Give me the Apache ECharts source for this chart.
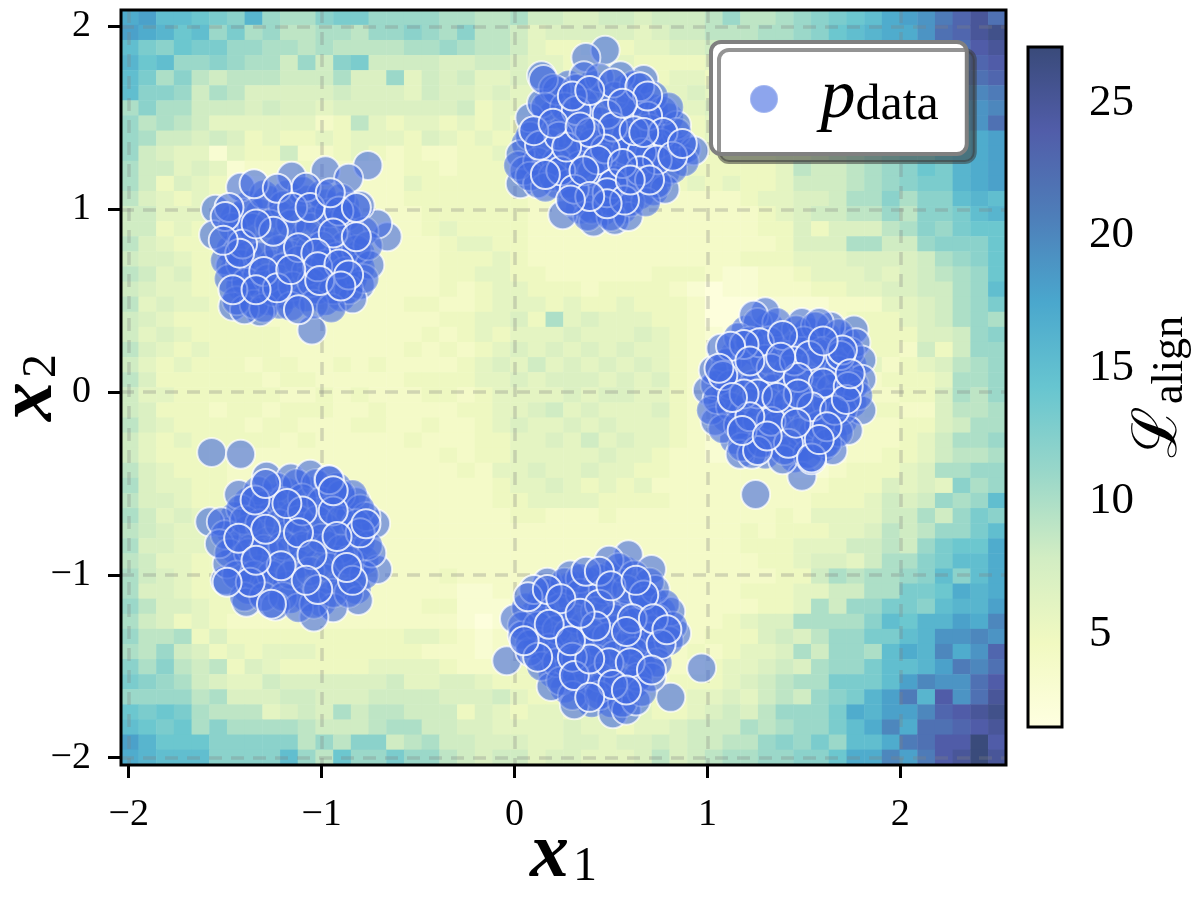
<!DOCTYPE html>
<html>
<head>
<meta charset="utf-8">
<style>html,body{margin:0;padding:0;background:#fff}#main{width:1200px;height:900px}</style>
<script src="https://cdn.jsdelivr.net/npm/echarts@6/dist/echarts.min.js"></script>
</head>
<body>
<div id="main"></div>
<script>
// L_align per cell, top row first
const alignRows = [
[17,18,15,15,14,13,12,16,11,10,10,12,13,13,11,11,11,11,10,10,9,9,10,8,8,7,7,8,8,7,8,8,8,9,11,9,9,10,11,12,13,14,15,17,18,19,21,23,25,22],
[18,17,16,14,15,11,13,10,11,9,9,10,10,9,11,11,12,11,10,12,9,9,8,6,7,7,7,7,7,6,7,8,8,9,9,9,10,10,11,12,14,15,16,17,17,19,22,23,25,26],
[15,13,12,14,13,13,11,11,10,10,9,10,9,9,9,9,10,10,11,10,9,9,8,6,5,5,6,6,5,6,6,7,7,8,9,9,10,11,11,12,13,14,15,17,18,18,20,22,24,25],
[16,14,15,11,11,12,11,10,10,8,11,8,12,13,8,8,8,8,7,7,8,8,7,6,6,5,5,6,6,5,5,5,5,6,8,8,9,9,10,12,13,14,15,16,17,18,20,21,23,24],
[15,13,10,12,9,8,9,9,9,8,8,8,10,7,7,11,6,8,7,8,6,6,7,6,6,5,6,6,6,6,5,6,6,5,8,7,7,8,10,11,12,14,15,16,17,18,20,22,22,23],
[15,12,12,11,8,10,9,7,7,7,7,7,8,7,7,7,6,8,7,7,6,7,6,6,7,6,7,7,7,6,6,6,7,6,6,7,7,8,9,10,12,13,14,15,16,18,19,20,20,21],
[10,12,10,10,8,8,8,7,8,7,7,6,7,7,7,7,7,7,7,8,5,6,6,6,7,6,6,6,6,6,6,6,6,7,6,6,7,8,8,9,11,12,13,14,15,16,18,18,19,20],
[11,9,10,9,8,6,6,6,6,6,6,4,5,9,6,5,6,6,5,6,5,6,5,5,6,6,5,5,5,5,6,6,5,6,6,7,7,7,8,9,10,11,12,13,14,16,17,17,19,22],
[11,10,8,8,7,8,7,5,6,5,5,6,5,6,6,6,5,7,6,5,6,5,5,4,5,5,5,6,5,5,6,5,5,6,5,6,7,7,7,8,10,11,13,13,14,15,16,16,17,18],
[11,8,7,6,6,3,6,5,5,8,4,4,5,6,5,4,5,4,4,5,5,6,5,5,4,4,5,4,4,5,5,6,5,5,6,6,6,7,7,8,9,10,11,12,13,13,15,16,17,18],
[10,8,8,6,7,6,3,4,4,4,5,4,4,4,4,4,5,5,4,5,5,5,4,5,4,4,4,4,4,4,5,5,5,5,5,5,5,6,9,8,8,9,10,11,12,14,13,16,17,18],
[10,8,5,7,6,5,3,3,4,4,4,4,4,4,4,4,6,5,5,5,5,5,5,5,5,5,4,5,4,4,4,5,6,5,6,5,5,6,8,8,8,9,10,11,12,13,13,16,17,18],
[9,7,6,5,6,5,3,3,4,4,4,4,4,4,4,4,5,5,5,5,5,5,5,4,4,4,4,4,4,4,4,4,4,4,4,5,6,6,7,7,8,10,10,12,10,12,12,15,16,15],
[8,8,6,6,6,5,4,4,4,4,4,4,4,4,4,4,4,5,5,5,5,5,5,4,4,4,4,4,4,4,4,4,4,4,4,4,5,6,7,8,8,9,9,11,9,12,12,13,15,16],
[8,8,5,6,5,6,4,4,4,4,4,4,4,4,4,4,4,5,6,5,5,5,5,4,4,4,4,4,4,4,4,4,4,4,4,4,5,5,7,5,7,7,7,9,10,12,11,13,14,14],
[9,7,6,5,5,5,4,4,4,4,4,4,4,4,4,4,4,4,5,6,6,5,5,4,4,4,4,4,4,4,4,4,4,4,4,4,4,5,7,7,7,10,10,8,8,11,12,12,12,14],
[8,7,7,6,5,5,4,4,4,4,4,4,4,4,4,4,4,4,5,5,5,6,5,4,4,4,4,4,4,4,4,4,4,4,4,5,5,5,6,6,6,7,7,7,7,8,10,11,12,14],
[9,8,6,7,5,5,4,4,4,4,4,4,4,4,4,4,4,4,5,5,6,6,5,5,4,4,4,4,4,4,5,5,5,4,3,3,4,4,5,6,6,6,7,6,7,8,9,10,11,14],
[8,7,6,6,5,5,4,4,4,4,4,4,4,4,4,4,4,4,5,4,5,6,6,5,5,5,4,5,5,5,5,4,3,2,3,3,4,4,4,5,5,6,6,7,7,8,8,10,11,15],
[9,6,7,6,6,5,5,5,4,4,4,4,4,4,4,4,5,5,4,4,5,6,6,6,5,6,5,5,6,5,5,5,4,2,2,2,3,3,3,3,4,4,4,6,6,7,8,10,11,13],
[8,7,6,5,5,5,5,5,4,4,4,4,4,4,4,4,4,4,5,5,6,6,7,5,10,6,7,6,6,6,5,5,4,2,2,3,3,3,3,3,4,5,5,5,6,7,8,10,11,10],
[8,6,7,6,5,5,5,5,5,4,4,4,4,4,4,4,4,5,4,5,6,5,6,6,6,7,6,6,6,7,6,5,4,3,2,3,3,3,3,3,4,4,5,5,5,7,7,8,11,12],
[9,7,6,5,6,5,5,5,5,4,4,4,4,4,4,4,5,4,5,4,5,6,7,6,7,6,7,6,7,6,6,5,4,3,3,3,3,3,3,3,4,4,5,5,4,8,5,8,11,11],
[8,6,5,6,5,5,5,4,5,5,4,4,5,4,5,4,4,4,4,5,6,7,6,8,6,7,6,7,6,7,6,5,4,3,3,3,3,3,3,3,4,4,6,4,5,6,7,9,10,11],
[9,7,5,5,5,5,5,5,4,5,5,4,4,4,4,4,5,5,5,5,6,6,7,6,7,7,7,6,7,6,7,5,4,3,3,3,3,3,3,3,3,4,4,5,5,5,6,10,10,11],
[8,6,6,5,5,5,5,5,5,4,4,5,4,5,4,4,4,5,5,4,5,6,6,6,6,7,6,7,7,6,6,5,4,3,3,3,3,3,3,3,3,3,4,4,5,5,7,10,9,11],
[8,7,5,5,5,4,5,5,4,5,5,5,4,4,5,4,4,4,4,5,5,6,6,7,8,6,7,6,6,6,7,5,4,3,3,3,3,3,3,3,3,4,5,5,4,4,7,9,9,10],
[9,7,6,5,5,5,5,4,5,5,4,4,4,5,5,4,4,5,4,4,5,6,7,6,6,7,6,7,6,6,6,5,4,3,3,3,3,3,3,3,3,4,4,4,5,5,7,8,10,10],
[8,6,5,6,5,5,5,5,5,4,5,4,4,4,4,4,5,4,4,4,5,5,6,6,7,6,8,6,7,6,6,5,4,3,3,3,3,3,3,3,3,4,4,4,5,6,8,10,10,11],
[8,6,5,5,5,5,4,4,4,4,4,4,4,4,4,4,4,4,5,4,5,5,6,6,6,6,6,7,6,6,5,4,4,3,3,3,3,3,3,3,3,4,4,5,5,6,8,9,9,10],
[9,7,6,5,5,5,4,4,4,4,4,4,4,4,4,4,4,4,4,5,4,6,6,7,6,6,7,6,6,5,5,4,4,4,4,4,4,4,3,3,4,5,5,5,6,7,10,10,11,11],
[10,7,6,6,5,5,4,4,4,4,4,4,4,4,4,4,4,4,4,4,4,5,6,6,7,6,5,6,5,6,4,4,4,4,4,4,4,4,4,4,5,5,5,7,6,7,6,12,10,11],
[9,7,7,6,5,5,4,4,4,4,4,4,4,4,4,4,4,4,4,4,4,5,5,6,6,6,6,5,5,5,5,4,4,4,4,4,4,4,4,5,5,5,6,8,7,8,11,10,11,15],
[10,8,6,7,6,5,5,4,4,4,4,4,4,4,4,4,4,4,4,4,4,4,5,5,4,4,4,5,4,4,4,4,4,4,4,4,4,5,4,6,6,6,6,8,8,10,8,11,13,12],
[9,8,7,6,6,5,5,4,4,4,4,4,4,4,4,4,4,4,4,4,4,4,4,4,4,4,4,4,4,4,4,4,4,4,4,5,4,5,5,5,6,6,7,9,8,9,11,11,13,15],
[10,7,7,6,6,5,5,4,4,4,4,4,4,4,4,4,4,4,4,4,4,4,4,4,4,4,4,4,4,4,4,4,4,4,4,5,5,5,6,6,6,8,8,9,8,11,13,14,14,17],
[9,8,6,6,5,5,5,4,4,4,4,4,4,4,4,4,4,4,4,4,4,4,4,4,4,4,4,4,4,4,4,4,4,4,4,4,5,5,6,7,7,6,8,10,10,12,13,15,15,17],
[10,8,7,6,5,5,5,4,4,4,4,4,4,4,4,4,4,4,5,4,4,4,4,4,4,4,4,4,4,4,4,4,4,4,4,4,4,5,5,8,10,9,10,10,11,12,15,12,15,17],
[10,7,7,6,5,5,5,4,4,4,4,4,4,4,4,4,4,4,4,3,3,4,4,4,4,4,4,4,4,4,4,4,4,4,4,5,5,5,6,6,8,8,10,10,13,13,14,17,16,17],
[11,9,7,7,6,5,5,4,4,4,4,4,4,4,4,4,4,5,5,3,3,3,4,4,4,4,4,4,4,4,4,4,4,4,4,4,5,5,6,10,8,11,11,13,13,12,15,16,16,18],
[10,8,7,5,6,5,4,4,4,4,4,4,4,4,4,4,4,4,4,3,2,3,4,4,4,4,4,4,4,4,4,4,4,4,5,6,7,7,10,10,10,10,12,15,14,16,16,18,17,20],
[11,9,9,10,5,7,5,5,5,5,5,5,5,5,5,5,6,6,5,4,3,4,4,4,4,4,4,4,4,4,4,4,4,5,5,5,7,8,7,9,11,11,13,13,15,16,19,19,20,19],
[10,9,11,8,7,5,6,5,6,6,6,5,5,5,5,5,5,4,4,4,3,4,4,4,4,4,4,4,4,4,4,4,5,4,5,6,6,7,10,8,11,11,10,15,17,16,20,17,19,23],
[12,10,12,9,8,9,5,7,6,5,5,5,5,5,6,6,6,6,5,4,4,4,5,5,5,4,4,4,4,4,4,4,4,5,6,6,7,8,7,10,11,11,13,15,15,16,18,21,20,22],
[13,12,11,10,8,7,6,6,8,7,7,7,7,7,7,8,6,6,7,7,6,5,5,5,6,5,4,4,4,4,4,5,5,5,6,7,8,9,10,10,13,13,13,15,18,20,19,19,22,24],
[11,11,11,11,9,10,7,7,7,8,8,7,7,7,8,8,8,8,7,7,7,8,6,5,5,5,5,4,5,5,5,5,6,6,7,6,8,9,8,11,12,13,16,18,21,16,24,19,22,25],
[14,13,14,13,10,9,9,9,6,7,8,7,10,8,9,9,8,8,8,5,7,6,5,6,6,5,6,5,6,6,5,5,6,7,8,7,9,11,11,11,13,17,16,18,18,20,23,24,25,26],
[15,14,13,14,10,12,10,10,10,10,9,8,8,8,9,10,10,8,8,7,7,6,6,6,6,7,6,6,5,6,6,7,8,8,8,10,9,10,11,11,13,15,17,20,17,22,22,23,24,25],
[18,16,14,14,14,12,12,12,12,12,9,11,9,12,12,8,9,10,8,8,7,7,7,6,6,7,7,6,7,7,8,7,8,8,9,9,11,12,11,13,11,15,15,17,21,22,24,24,27,24],
[17,16,15,15,15,12,12,12,12,15,11,9,14,11,11,13,11,11,9,8,7,8,8,6,7,7,6,6,6,7,9,7,8,9,10,10,11,11,12,12,14,17,17,20,18,21,24,25,27,25]
];

// p_data points by draw layer, one line per cluster: top left, bottom left, top, right, bottom
const pointsDeep = [
[-1.45,.95],[-1.38,1.02],[-1.28,1.05],[-1.18,1.08],[-1.08,1.05],[-.98,1.03],[-.88,1.02],[-1.42,.88],[-1.32,.98],[-1.22,.97],[-1.12,.95],[-1.02,.94],[-.92,.92],[-.85,.92],[-1.47,.78],[-1.38,.75],[-1.28,.8],[-1.18,.85],[-1.08,.86],[-.98,.84],[-.88,.8],[-.8,.76],[-1.45,.67],[-1.36,.64],[-1.26,.7],[-1.16,.75],[-1.06,.78],[-.96,.76],[-.86,.72],[-.8,.68],[-1.42,.58],[-1.32,.6],[-1.22,.62],[-1.12,.6],[-1.02,.66],[-.95,.64],[-.84,.62],[-1.38,.52],[-1.28,.5],[-1.18,.53],[-1.08,.52],[-.98,.5],[-.9,.52],[-1.22,.48],[-1.02,.56],
[-1.38,-.6],[-1.28,-.58],[-1.18,-.55],[-1.08,-.54],[-.98,-.56],[-.88,-.6],[-1.45,-.68],[-1.35,-.68],[-1.25,-.66],[-1.15,-.68],[-1.05,-.62],[-.95,-.64],[-.85,-.68],[-.78,-.74],[-1.47,-.76],[-1.38,-.75],[-1.28,-.82],[-1.18,-.78],[-1.08,-.74],[-.98,-.74],[-.88,-.78],[-.8,-.82],[-1.45,-.86],[-1.36,-.85],[-1.26,-.88],[-1.16,-.86],[-1.06,-.82],[-.96,-.84],[-.86,-.86],[-.78,-.92],[-1.42,-.96],[-1.32,-.97],[-1.22,-.98],[-1.12,-.94],[-1.02,-.94],[-.92,-.92],[-.82,-.95],[-1.38,-1.08],[-1.28,-1.06],[-1.18,-1.06],[-1.08,-1.12],[-.98,-1.02],[-.9,-1.06],[-.82,-1.08],[-1.16,-1.13],[-1,-1.15],
[.18,1.6],[.28,1.68],[.4,1.68],[.45,1.6],[.58,1.66],[.65,1.6],[.75,1.48],[.2,1.52],[.28,1.5],[.38,1.52],[.55,1.5],[.62,1.52],[.72,1.55],[.8,1.5],[.12,1.45],[.24,1.42],[.34,1.38],[.42,1.4],[.52,1.38],[.6,1.36],[.7,1.38],[.8,1.38],[.06,1.36],[.16,1.3],[.26,1.28],[.36,1.32],[.44,1.24],[.54,1.3],[.64,1.26],[.74,1.34],[.85,1.3],[.09,1.25],[.18,1.24],[.3,1.2],[.4,1.14],[.5,1.2],[.6,1.24],[.7,1.22],[.78,1.2],[.22,1.14],[.32,1.12],[.44,1.06],[.54,1.12],[.65,1.08],[.72,1.1],[.34,1],[.46,.99],[.56,1],
[1.2,.34],[1.32,.36],[1.42,.3],[1.52,.33],[1.62,.3],[1.72,.28],[1.14,.2],[1.25,.22],[1.35,.24],[1.45,.24],[1.55,.26],[1.65,.16],[1.75,.15],[1.09,.06],[1.18,.1],[1.28,.06],[1.38,.07],[1.52,.12],[1.62,.1],[1.7,.08],[1.08,-.06],[1.16,-.1],[1.28,-.1],[1.38,-.1],[1.48,-.05],[1.56,0],[1.66,-.03],[1.75,-.06],[1.1,-.14],[1.2,-.18],[1.3,-.2],[1.4,-.14],[1.52,-.16],[1.6,-.12],[1.7,-.16],[1.14,-.26],[1.22,-.27],[1.35,-.28],[1.45,-.3],[1.55,-.22],[1.65,-.24],[1.3,-.34],[1.45,-.36],[1.5,-.3],[1.6,-.3],
[.14,-1.14],[.22,-1.08],[.3,-1.06],[.4,-1.04],[.5,-1],[.58,-.98],[.66,-1.08],[.1,-1.22],[.2,-1.18],[.3,-1.14],[.4,-1.12],[.52,-1.12],[.62,-1.14],[.72,-1.14],[.08,-1.3],[.16,-1.32],[.26,-1.26],[.36,-1.28],[.48,-1.2],[.56,-1.22],[.66,-1.2],[.76,-1.2],[.12,-1.38],[.22,-1.36],[.34,-1.36],[.44,-1.36],[.52,-1.3],[.64,-1.32],[.72,-1.3],[.16,-1.46],[.24,-1.42],[.36,-1.42],[.46,-1.42],[.56,-1.4],[.66,-1.38],[.72,-1.44],[.2,-1.54],[.28,-1.5],[.38,-1.52],[.48,-1.54],[.58,-1.52],[.66,-1.5],[.26,-1.62],[.34,-1.6],[.44,-1.62],[.54,-1.66],[.62,-1.6],[.4,-1.7],[.5,-1.7]
];
const pointsEdge = [
[-.76,1.24],[-.98,1.21],[-.86,1.17],[-.66,.85],[-1.55,1.0],[-1.56,.86],[-1.42,1.12],[-1.05,.34],[-.75,.695],[-.8,.585],[-.84,.51],[-1.32,.44],[-1.46,.47],[-1.4,.45],[-1.475,.69],[-1.155,1.18],[-.71,.92],[-.8,1.02],
[-1.57,-.33],[-1.42,-.34],[-1.58,-.71],[-1.52,-.71],[-1.43,-.56],[-1.285,-.46],[-1.16,-.47],[-1.06,-.45],[-.965,-.48],[-.82,-.6],[-.72,-.72],[-.71,-.97],[-.81,-1.14],[-.94,-1.18],[-1.04,-1.23],[-1.24,-1.17],[-1.39,-1.15],[-1.5,-1.03],[-1.49,-.94],[-1.53,-.83],[-.77,-.68],[-.74,-.88],
[.47,1.87],[.37,1.83],[.14,1.73],[.08,1.5],[.14,1.58],[.03,1.3],[.03,1.14],[.05,1.21],[.12,1.14],[.78,1.11],[.89,1.33],[.84,1.46],[.93,1.32],[.67,1.71],[.55,1.73],[.25,.97],[.41,.93],[.52,.94],[.59,.96],[.77,1.54],[.36,1.73],[.22,1.65],[.15,1.71],
[1.3,.44],[1.24,.42],[1.49,.38],[1.76,.34],[1.77,.27],[1.8,.175],[1.8,.07],[1.8,-.1],[1.73,-.21],[1.65,-.32],[1.49,-.46],[1.25,-.56],[1.04,-.16],[1,.01],[1.05,-.04],[1.03,.12],[1.07,.24],[1.17,-.34],[1.23,-.34],[1.39,-.37],[1.54,-.37],[1.64,.36],[1.58,.38],
[.59,-.89],[.49,-.92],[.71,-.97],[.17,-1.04],[.29,-1],[0,-1.24],[-.04,-1.47],[.04,-1.33],[.97,-1.51],[.81,-1.67],[.84,-1.32],[.81,-1.2],[.73,-1.08],[.19,-1.61],[.31,-1.71],[.51,-1.76],[.58,-1.74],[.63,-1.69],[.71,-1.56],[.08,-1.42]
];
const pointsMiddle = [
[-1.4,.98],[-1.3,1.08],[-1.2,1.02],[-1.1,1.1],[-1,1.08],[-.9,1.06],[-1.46,.9],[-1.36,.9],[-1.27,.92],[-1.16,.92],[-1.06,.9],[-.96,.98],[-.87,.96],[-.78,.88],[-1.5,.72],[-1.42,.7],[-1.32,.74],[-1.22,.78],[-1.12,.72],[-1,.8],[-.92,.74],[-.82,.78],[-.76,.8],[-1.48,.62],[-1.39,.6],[-1.28,.62],[-1.2,.68],[-1.08,.66],[-.98,.7],[-.88,.66],[-.78,.62],[-1.44,.5],[-1.35,.48],[-1.25,.55],[-1.15,.58],[-1.05,.6],[-.94,.56],[-.86,.56],[-1.3,.46],[-1.16,.47],[-1.04,.48],[-.95,.46],
[-1.33,-.54],[-1.23,-.52],[-1.13,-.5],[-1.03,-.5],[-.92,-.52],[-.84,-.56],[-1.42,-.64],[-1.3,-.62],[-1.2,-.6],[-1.1,-.58],[-1,-.6],[-.9,-.56],[-.8,-.64],[-1.5,-.78],[-1.4,-.7],[-1.32,-.72],[-1.22,-.72],[-1.12,-.7],[-1.02,-.7],[-.9,-.7],[-.82,-.72],[-1.48,-.88],[-1.38,-.88],[-1.3,-.86],[-1.2,-.84],[-1.1,-.84],[-1,-.8],[-.9,-.86],[-.76,-.84],[-1.44,-1],[-1.35,-1],[-1.26,-1],[-1.16,-1],[-1.06,-.98],[-.96,-.96],[-.86,-.92],[-.78,-1],[-1.4,-1.12],[-1.3,-1.12],[-1.2,-1.12],[-1.12,-1.18],[-1.04,-1.16],[-.94,-1.1],[-.86,-1.1],
[.2,1.66],[.32,1.66],[.44,1.72],[.52,1.62],[.62,1.68],[.72,1.62],[.8,1.56],[.16,1.56],[.26,1.56],[.36,1.58],[.44,1.48],[.6,1.58],[.7,1.44],[.84,1.42],[.08,1.4],[.18,1.36],[.3,1.36],[.4,1.36],[.5,1.42],[.58,1.4],[.76,1.36],[.88,1.26],[.02,1.24],[.12,1.26],[.22,1.26],[.34,1.24],[.46,1.28],[.58,1.32],[.7,1.3],[.82,1.22],[.08,1.18],[.2,1.18],[.28,1.14],[.4,1.2],[.52,1.16],[.62,1.14],[.74,1.14],[.16,1.12],[.3,1.04],[.4,1],[.5,1.04],[.6,1.04],[.68,1.04],[.38,.96],[.5,.96],
[1.26,.38],[1.36,.38],[1.46,.34],[1.56,.36],[1.68,.32],[1.16,.3],[1.22,.28],[1.32,.28],[1.42,.2],[1.5,.28],[1.6,.22],[1.74,.22],[1.1,.16],[1.2,.14],[1.3,.18],[1.42,.12],[1.56,.16],[1.68,.12],[1.76,.04],[1.04,.04],[1.12,.04],[1.24,.04],[1.34,.02],[1.44,.04],[1.54,.06],[1.64,.02],[1.78,-.02],[1.02,-.1],[1.12,-.08],[1.22,-.06],[1.32,-.06],[1.42,-.06],[1.52,-.04],[1.62,-.06],[1.7,-.1],[1.08,-.2],[1.16,-.18],[1.26,-.16],[1.36,-.18],[1.48,-.22],[1.58,-.18],[1.68,-.22],[1.18,-.3],[1.28,-.28],[1.4,-.32],[1.52,-.34],[1.62,-.28],
[.16,-1.1],[.26,-1.04],[.34,-1.02],[.44,-1.02],[.54,-.96],[.62,-1],[.7,-1.04],[.06,-1.18],[.14,-1.2],[.24,-1.18],[.34,-1.1],[.46,-1.08],[.58,-1.08],[.68,-1.14],[.78,-1.16],[.04,-1.28],[.12,-1.28],[.22,-1.3],[.32,-1.24],[.42,-1.2],[.52,-1.24],[.62,-1.26],[.74,-1.24],[.82,-1.28],[.08,-1.38],[.18,-1.4],[.28,-1.32],[.4,-1.32],[.48,-1.34],[.6,-1.36],[.7,-1.34],[.8,-1.36],[.14,-1.5],[.22,-1.48],[.32,-1.46],[.42,-1.46],[.52,-1.44],[.62,-1.42],[.74,-1.48],[.24,-1.58],[.32,-1.56],[.44,-1.56],[.54,-1.58],[.64,-1.56],[.3,-1.66],[.44,-1.66],[.56,-1.7],[.66,-1.64]
];
const pointsTop = [
[-1.48,1.01],[-1.5,.96],[-1.35,1.14],[-1.23,1.115],[-1.08,1.12],[-1.15,1.01],[-1.06,1.01],[-.91,.99],[-1.25,.88],[-1.41,.81],[-1.425,.76],[-.94,.87],[-.82,.85],[-1.12,.79],[-1.03,.76],[-1.02,.685],[-.91,.7],[-1.3,.66],[-1.23,.57],[-1.46,.56],[-.86,.64],[-1.12,.45],[-1.01,.61],[-.9,.58],[-.82,1.01],[-1.34,.92],[-.955,1.09],[-1.16,.67],[-1.34,.56],[-1.51,.83],
[-1.345,-.59],[-1.29,-.5],[-1.43,-.8],[-1.29,-.75],[-1.1,-.65],[-.94,-.65],[-.8,-.77],[-1.12,-.77],[-1.05,-.89],[-1.21,-.95],[-1.37,-1.04],[-1.02,-1.08],[-.84,-1.03],[-.96,-.48],[-1.26,-1.16],[-1.49,-1.04],[-.92,-.79],[-.87,-.96],[-1.34,-.92],[-1.08,-1.03],[-.94,-.54],[-1.18,-.61],[-.77,-.72],
[.32,1.54],[.51,1.69],[.65,1.67],[.3,1.62],[.48,1.52],[.51,1.45],[.69,1.51],[.13,1.35],[.23,1.4],[.47,1.33],[.43,1.27],[.66,1.31],[.39,1.42],[.62,1.43],[.77,1.42],[.24,1.21],[.16,1.19],[.31,1.11],[.51,1.14],[.48,1.09],[.57,1.05],[.48,1.03],[.27,1.34],[.74,1.27],[.82,1.29],[.65,1.21],[.56,1.25],[.36,1.21],[.69,1.62],[.39,1.65],[.56,1.58],[.1,1.43],[.2,1.47],[.87,1.36],[.7,1.16],[.6,1.16],[.39,1.07],[.29,1.05],[.67,1.42],[.34,1.45],
[1.27,.27],[1.19,.26],[1.12,.25],[1.39,.31],[1.08,.09],[1.06,.13],[1.33,.13],[1.45,.17],[1.53,.2],[1.69,.2],[1.7,.23],[1.6,.28],[1.47,.08],[1.6,.05],[1.73,.03],[1.26,-.01],[1.19,-.01],[1.54,-.08],[1.66,-.1],[1.33,-.16],[1.22,-.135],[1.42,-.28],[1.54,-.36],[1.26,-.32],[1.18,-.21],[1.47,-.01],[1.36,-.03],[1.62,-.19],[1.31,-.24],[1.58,-.26],[1.46,-.17],[1.38,.19],[1.22,.17],[1.13,-.03],[1.72,-.04],[1.74,.1],
[.1,-1.08],[.07,-1.12],[.37,-.98],[.44,-.98],[.17,-1.08],[.24,-1.13],[.44,-1.16],[.67,-1.11],[.61,-1.24],[.72,-1.24],[.42,-1.28],[.58,-1.31],[.76,-1.38],[.3,-1.45],[.12,-1.45],[.49,-1.48],[.6,-1.48],[.71,-1.52],[.31,-1.55],[.39,-1.46],[.18,-1.27],[.29,-1.36],[.34,-1.21],[.51,-1.6],[.58,-1.63],[.39,-1.67],[.5,-1.06],[.63,-1.03],[.79,-1.3],[.05,-1.36]
];

const xTicks = [-2, -1, 0, 1, 2];
const yTicks = [-2, -1, 0, 1, 2];
const barTicks = [5, 10, 15, 20, 25];
const xRange = [-2.04, 2.548];
const yRange = [-2.04, 2.09];
const barRange = [1.5, 27.1];

// YlGnBu at alpha 0.8 on white
const palette = ['#ffffe1', '#f1f9c1', '#d2edc3', '#99d7c9', '#67c5d0', '#4aa7cd', '#4e7eb9', '#515da9', '#394a79'];

const serif = '"Liberation Serif", serif';
const fmtTick = v => (v < 0 ? '\u2212' + (-v) : '' + v);

const xCells = alignRows[0].map((_, i) => i);
const yCells = alignRows.map((_, i) => i);
const cellData = [];
alignRows.forEach((row, r) => {
  row.forEach((v, c) => cellData.push([c, alignRows.length - 1 - r, v]));
});

const tickStyle = { length: 13, lineStyle: { color: '#000', width: 3 } };
const gridDash = { show: true, lineStyle: { color: 'rgba(130,130,130,0.3)', width: 3.5, type: [13, 9] } };

function scatterLayer(data, ringColor, z) {
  return {
    type: 'scatter', name: 'pdata', xAxisIndex: 1, yAxisIndex: 1, z: z, symbolSize: 29, silent: true,
    itemStyle: { color: 'rgba(65,105,225,0.6)', borderColor: ringColor, borderWidth: 2, opacity: 1 },
    data: data, large: false, progressive: 0
  };
}

const chart = echarts.init(document.getElementById('main'), null, { renderer: 'canvas' });
chart.setOption({
  animation: false,
  backgroundColor: '#fff',
  grid: [
    { left: 121, top: 10, width: 885, height: 755, outerBoundsMode: 'none', show: true, z: 10, backgroundColor: 'transparent', borderColor: '#000', borderWidth: 3 },
    { left: 1028, top: 47, width: 34, height: 680, outerBoundsMode: 'none', show: true, z: 10, borderColor: '#000', borderWidth: 3,
      backgroundColor: { type: 'linear', x: 0, y: 1, x2: 0, y2: 0,
        colorStops: palette.map((c, i) => ({ offset: i / (palette.length - 1), color: c })) } }
  ],
  xAxis: [
    { type: 'category', gridIndex: 0, data: xCells, show: false },
    { type: 'value', gridIndex: 0, min: xRange[0], max: xRange[1], position: 'bottom',
      axisLine: { show: false }, axisTick: Object.assign({ show: true, customValues: xTicks }, tickStyle),
      axisLabel: { customValues: xTicks, formatter: fmtTick, fontFamily: serif, fontSize: 38, color: '#000', margin: 31 },
      splitLine: gridDash,
      name: '{x|x}{s|1}', nameLocation: 'middle', nameGap: 52, nameMoveOverlap: false,
      nameTextStyle: { rich: {
        x: { fontFamily: serif, fontStyle: 'italic', fontWeight: 'bold', fontSize: 78, color: '#000' },
        s: { fontFamily: serif, fontSize: 48, color: '#000', padding: [22, 0, 0, 4] }
      } } },
    { type: 'value', gridIndex: 1, show: false, min: 0, max: 1 }
  ],
  yAxis: [
    { type: 'category', gridIndex: 0, data: yCells, show: false },
    { type: 'value', gridIndex: 0, min: yRange[0], max: yRange[1], position: 'left',
      axisLine: { show: false }, axisTick: Object.assign({ show: true, customValues: yTicks }, tickStyle),
      axisLabel: { customValues: yTicks, formatter: fmtTick, fontFamily: serif, fontSize: 38, color: '#000', margin: 30 },
      splitLine: gridDash,
      name: '{x|x}{s|2}', nameLocation: 'middle', nameGap: 51, nameRotate: 90, nameMoveOverlap: false,
      nameTextStyle: { rich: {
        x: { fontFamily: serif, fontStyle: 'italic', fontWeight: 'bold', fontSize: 78, color: '#000' },
        s: { fontFamily: serif, fontSize: 48, color: '#000', padding: [22, 0, 0, 4] }
      } } },
    { type: 'value', gridIndex: 1, min: barRange[0], max: barRange[1], position: 'right',
      axisLine: { show: false }, splitLine: { show: false },
      axisTick: Object.assign({ show: true, customValues: barTicks }, tickStyle),
      axisLabel: { customValues: barTicks, fontFamily: serif, fontSize: 45, color: '#000', margin: 27 },
      name: '{l|\u2112}{s|align}', nameLocation: 'middle', nameGap: 66, nameRotate: 90, nameMoveOverlap: false,
      nameTextStyle: { rich: {
        l: { fontFamily: '"DejaVu Serif", serif', fontSize: 62, color: '#000' },
        s: { fontFamily: serif, fontSize: 44, color: '#000', padding: [20, 0, 0, 2] }
      } } }
  ],
  visualMap: { show: false, type: 'continuous', seriesIndex: 0, dimension: 2, min: barRange[0], max: barRange[1], inRange: { color: palette } },
  legend: {
    left: 711, top: 42, orient: 'vertical', z: 20,
    data: ['pdata'],
    icon: 'circle', itemWidth: 103, itemHeight: 28, symbolKeepAspect: true,
    padding: [22, 28, 20, 38],
    backgroundColor: '#fff', borderColor: '#808080', borderWidth: 4, borderRadius: 10,
    shadowColor: 'rgba(60,60,60,0.55)', shadowBlur: 0, shadowOffsetX: 8, shadowOffsetY: 8,
    formatter: () => '{p|p}{s|data}',
    textStyle: { rich: {
      p: { fontFamily: serif, fontStyle: 'italic', fontSize: 70, color: '#000' },
      s: { fontFamily: serif, fontSize: 50, color: '#000', padding: [14, 0, 0, 0] }
    } }
  },
  series: [
    { type: 'heatmap', xAxisIndex: 0, yAxisIndex: 0, z: -1, progressive: 0, silent: true, data: cellData, emphasis: { disabled: true } },
    scatterLayer(pointsDeep, 'rgba(255,255,255,0.2)', 3),
    scatterLayer(pointsEdge, 'rgba(255,255,255,0.7)', 4),
    scatterLayer(pointsMiddle, 'rgba(255,255,255,0.22)', 5),
    scatterLayer(pointsTop, 'rgba(255,255,255,0.8)', 6)
  ]
});
</script>
</body>
</html>
